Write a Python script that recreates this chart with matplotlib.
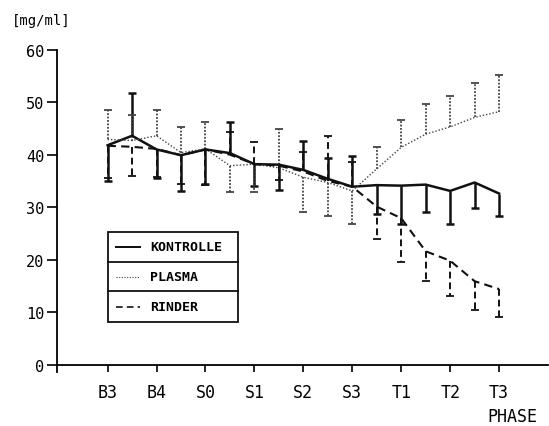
import numpy as np
import matplotlib
matplotlib.use("Agg")
import matplotlib.pyplot as plt
from matplotlib.patches import Rectangle
from matplotlib.lines import Line2D

# Phases on the x axis; measurements at every half phase step
phases = ["B3", "B4", "S0", "S1", "S2", "S3", "T1", "T2", "T3"]
steps = np.arange(17) * 0.5

series_names = ["KONTROLLE", "PLASMA", "RINDER"]

# Mean values [mg/ml]
kontrolle_mean = [41.8, 43.6, 41.0, 39.9, 41.0, 40.3, 38.2, 38.1, 37.1,
                  35.4, 33.9, 34.2, 34.1, 34.3, 33.1, 34.7, 32.6]
plasma_mean = [42.9, 42.7, 43.6, 40.4, 41.1, 37.9, 38.2, 37.5, 35.7,
               34.7, 33.1, 37.3, 41.4, 43.9, 45.3, 47.1, 48.2]
rinder_mean = [41.7, 41.5, 41.1, 39.9, 41.0, 40.0, 38.2, 37.9, 36.8,
               35.0, 33.9, 30.1, 27.9, 21.6, 19.8, 15.9, 14.4]

# End value of the (one-sided) standard deviation bar at each step
kontrolle_bar = [35.0, 51.7, 35.5, 33.0, 34.5, 46.2, 34.1, 33.3, 42.7,
                 39.4, 39.8, 28.7, 26.8, 29.0, 26.8, 29.8, 28.3]
plasma_bar = [48.5, 47.6, 48.5, 45.2, 46.2, 32.8, 32.8, 44.8, 29.0,
              28.4, 26.8, 41.4, 46.6, 49.7, 51.2, 53.6, 55.2]
rinder_bar = [35.5, 36.0, 35.8, 34.4, 34.2, 44.4, 42.5, 35.2, 40.5,
              43.6, 38.7, 23.9, 19.5, 16.0, 13.0, 10.5, 9.0]

W, H = 549, 427
fig = plt.figure(figsize=(W / 100, H / 100), dpi=100)
fig.patch.set_facecolor("white")

MONO = "DejaVu Sans Mono"


def fx(px):
    return px / W


def fy(py):
    return 1 - py / H


ax = fig.add_axes([fx(56.7), fy(373), (548 - 56.7) / W, (373 - 50.7) / H])
ax.set_xlim(-1.04, 9.0)
ax.set_ylim(-1.4, 60)

styles = [
    dict(ls="-", lw=1.8, color="#111111", bar_ls="-", bar_lw=1.8, cap_mew=1.8),
    dict(ls=(0, (1, 1.4)), lw=1.0, color="#444444", bar_ls=(0, (1, 0.9)),
         bar_lw=1.3, cap_mew=1.3),
    dict(ls=(0, (4, 2.5)), lw=1.5, color="#111111", bar_ls=(0, (3.5, 2)),
         bar_lw=1.4, cap_mew=1.3),
]
means = [kontrolle_mean, plasma_mean, rinder_mean]
bars = [kontrolle_bar, plasma_bar, rinder_bar]

for mean, bar, st in zip(means, bars, styles):
    ax.plot(steps, mean, ls=st["ls"], lw=st["lw"], color=st["color"],
            zorder=3)
    ax.vlines(steps, mean, bar, linestyles=[st["bar_ls"]],
              linewidths=st["bar_lw"], colors=st["color"], zorder=2)
    ax.plot(steps, bar, ls="none", marker="_", ms=5.5,
            mew=st["cap_mew"], color=st["color"], zorder=2)

# Axes: y axis crossing the x axis at zero
for s in ["top", "right"]:
    ax.spines[s].set_visible(False)
ax.spines["bottom"].set_position(("data", 0))
ax.spines["left"].set_linewidth(1.3)
ax.spines["bottom"].set_linewidth(1.3)
ax.spines["left"].set_bounds(-1.4, 60)

ax.set_xticks(range(len(phases)))
ax.set_xticklabels(phases, fontfamily=MONO, fontsize=12)
ax.set_yticks(range(0, 61, 10))
ax.set_yticklabels([str(v) for v in range(0, 61, 10)], fontfamily=MONO,
                   fontsize=11)
ax.tick_params(axis="x", direction="out", length=5, width=1.2, pad=8)
ax.tick_params(axis="y", direction="out", length=7, width=1.2, pad=2)

fig.text(fx(12), fy(21), "[mg/ml]", fontfamily=MONO, fontsize=10,
         ha="left", va="center")
fig.text(fx(487), fy(417.5), "PHASE", fontfamily=MONO, fontsize=12,
         ha="left", va="center")

# Boxed legend with one row per series
box_l, box_r = 107.7, 238.3
row_edges = [233.3, 262.7, 292.3, 323.3]
fig.add_artist(Rectangle((fx(box_l), fy(row_edges[-1])),
                         (box_r - box_l) / W,
                         (row_edges[-1] - row_edges[0]) / H,
                         transform=fig.transFigure, fill=False,
                         lw=1.3, ec="#111111", zorder=5))
for yy in row_edges[1:-1]:
    fig.add_artist(Line2D([fx(box_l), fx(box_r)], [fy(yy), fy(yy)],
                          transform=fig.transFigure, lw=1.3,
                          color="#111111"))
for i, (name, st) in enumerate(zip(series_names, styles)):
    yc = (row_edges[i] + row_edges[i + 1]) / 2
    fig.add_artist(Line2D([fx(116), fx(140)], [fy(yc), fy(yc)],
                          transform=fig.transFigure, ls=st["ls"],
                          lw=st["lw"] * 0.8, color=st["color"]))
    fig.text(fx(150), fy(yc), name, fontfamily=MONO, fontsize=9.5,
             fontweight="bold", ha="left", va="center")

fig.savefig("out.png", dpi=100, facecolor="white")
